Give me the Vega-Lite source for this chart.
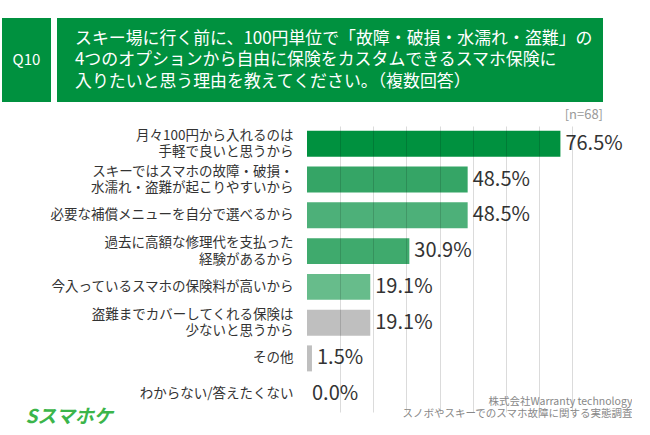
{
  "$schema": "https://vega.github.io/schema/vega-lite/v6.json",
  "background": "white",
  "padding": {"left": 2, "top": 18, "right": 0, "bottom": 0},
  "config": {"view": {"stroke": null}, "font": "Noto Sans CJK JP"},
  "spacing": 7,
  "vconcat": [
    {
      "spacing": 6,
      "hconcat": [
        {
          "width": 49, "height": 84,
          "view": {"fill": "#00913F", "stroke": null},
          "data": {"values": [{"t": "Q10"}]},
          "mark": {"type": "text", "color": "white", "fontSize": 15, "font": "Noto Sans CJK JP"},
          "encoding": {"text": {"field": "t"}}
        },
        {
          "width": 546, "height": 84,
          "view": {"fill": "#00913F", "stroke": null},
          "data": {"values": [{"t": "スキー場に行く前に、100円単位で「故障・破損・水濡れ・盗難」の\n4つのオプションから自由に保険をカスタムできるスマホ保険に\n入りたいと思う理由を教えてください。（複数回答）"}]},
          "mark": {"type": "text", "color": "white", "fontSize": 16.9, "align": "left", "baseline": "middle", "dx": -255, "dy": -21.5, "lineBreak": "\n", "lineHeight": 21.5, "font": "Noto Sans CJK JP"},
          "encoding": {"text": {"field": "t"}}
        }
      ]
    },
    {
      "width": 570,
      "height": 286,
      "title": {"text": "[n=68]", "anchor": "end", "frame": "group", "fontSize": 13, "color": "#999999", "fontWeight": "normal", "offset": 4, "dx": 31, "font": "Noto Sans CJK JP"},
      "data": {"values": [
        {"reason": "月々100円から入れるのは\n手軽で良いと思うから\u3000", "share": 0.765},
        {"reason": "スキーではスマホの故障・破損・\n水濡れ・盗難が起こりやすいから", "share": 0.485},
        {"reason": "必要な補償メニューを自分で選べるから", "share": 0.485},
        {"reason": "過去に高額な修理代を支払った\n経験があるから\u3000\u3000\u3000\u2002", "share": 0.309},
        {"reason": "今入っているスマホの保険料が高いから", "share": 0.191},
        {"reason": "盗難までカバーしてくれる保険は\n少ないと思うから\u3000\u3000\u3000\u2002", "share": 0.191},
        {"reason": "その他", "share": 0.015},
        {"reason": "わからない/答えたくない", "share": 0.0}
      ]},
      "encoding": {
        "y": {
          "field": "reason", "type": "nominal", "sort": null,
          "scale": {"paddingInner": 0.273, "paddingOuter": 0.136},
          "axis": {
            "offset": -305,
            "labelExpr": "split(datum.label, '\\n')",
            "labelFont": "Noto Sans CJK JP", "labelFontSize": 13.5, "labelColor": "#333333",
            "labelLineHeight": 16.5, "labelPadding": 14, "labelLimit": 0,
            "labelOffset": {"condition": {"test": "indexof(datum.value, '\\n') >= 0", "value": -8}, "value": 0},
            "ticks": false, "domain": false, "grid": false,
            "title": "Sスマホケ", "titleAngle": 0, "titleX": -282, "titleY": 290,
            "titleAlign": "left", "titleBaseline": "middle", "titleFontSize": 19,
            "titleFontWeight": "bold", "titleFontStyle": "italic", "titleColor": "#3BB54A",
            "titleFont": "Noto Sans CJK JP"
          }
        },
        "x": {
          "field": "share", "type": "quantitative",
          "scale": {"domain": [0, 0.8], "nice": false, "range": [305, 570]},
          "axis": {
            "values": [0.1, 0.2, 0.3, 0.4, 0.5, 0.6, 0.7, 0.8],
            "labels": false, "ticks": false, "domain": false,
            "grid": true, "gridColor": "#000000", "gridOpacity": 0.14, "zindex": 1,
            "title": ["株式会社Warranty technology", "スノボやスキーでのスマホ故障に関する実態調査"],
            "titleX": 630, "titleY": -16, "titleAlign": "right", "titleBaseline": "top",
            "titleFontSize": 10.5, "titleFontWeight": "normal", "titleColor": "#888888",
            "titleLineHeight": 12.5, "titleFont": "Noto Sans CJK JP"
          }
        }
      },
      "layer": [
        {
          "mark": {"type": "bar"},
          "encoding": {
            "color": {
              "field": "reason", "type": "nominal", "legend": null,
              "scale": {
                "domain": [
                  "月々100円から入れるのは\n手軽で良いと思うから\u3000",
                  "スキーではスマホの故障・破損・\n水濡れ・盗難が起こりやすいから",
                  "必要な補償メニューを自分で選べるから",
                  "過去に高額な修理代を支払った\n経験があるから\u3000\u3000\u3000\u2002",
                  "今入っているスマホの保険料が高いから",
                  "盗難までカバーしてくれる保険は\n少ないと思うから\u3000\u3000\u3000\u2002",
                  "その他",
                  "わからない/答えたくない"
                ],
                "range": ["#00913F", "#35A566", "#4DB079", "#3FAA6D", "#67BC8B", "#BFBFBF", "#BFBFBF", "#BFBFBF"]
              }
            }
          }
        },
        {
          "mark": {"type": "text", "align": "left", "baseline": "middle", "dx": 5, "fontSize": 20, "color": "#333333", "font": "Noto Sans CJK JP"},
          "encoding": {"text": {"field": "share", "type": "quantitative", "format": ".1%"}}
        }
      ]
    }
  ]
}
